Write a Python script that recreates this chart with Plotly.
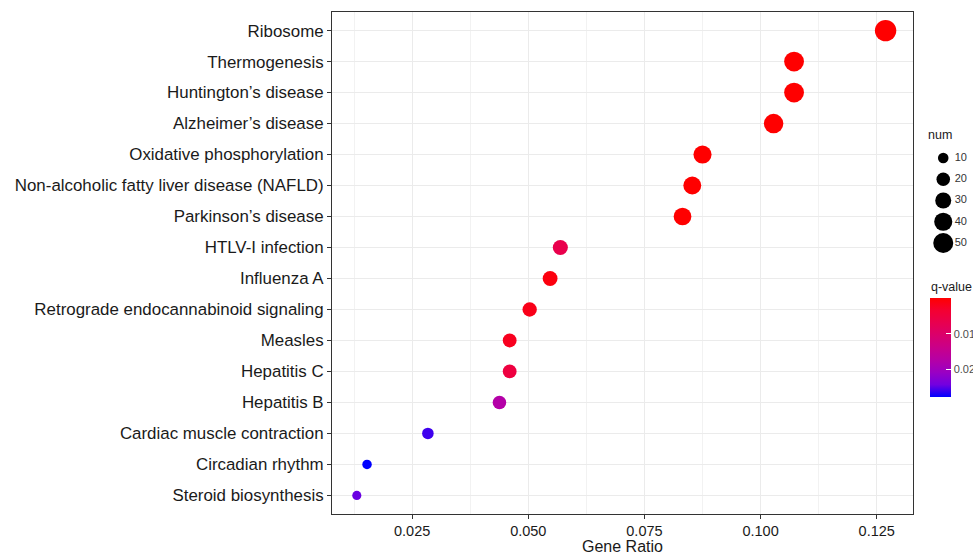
import plotly.graph_objects as go

# KEGG enrichment results (top to bottom)
pathways = [
    "Ribosome",
    "Thermogenesis",
    "Huntington\u2019s disease",
    "Alzheimer\u2019s disease",
    "Oxidative phosphorylation",
    "Non-alcoholic fatty liver disease (NAFLD)",
    "Parkinson\u2019s disease",
    "HTLV-I infection",
    "Influenza A",
    "Retrograde endocannabinoid signaling",
    "Measles",
    "Hepatitis C",
    "Hepatitis B",
    "Cardiac muscle contraction",
    "Circadian rhythm",
    "Steroid biosynthesis",
]
gene_ratio = [0.1269, 0.1072, 0.1072, 0.1028, 0.0875, 0.0853, 0.0832, 0.0569,
              0.0547, 0.0503, 0.0460, 0.0460, 0.0438, 0.0284, 0.0153, 0.0131]
num = [58, 49, 49, 47, 40, 39, 38, 26, 25, 23, 21, 21, 20, 13, 7, 6]
q_value = [0.00001, 0.00001, 0.00001, 0.00002, 0.00002, 0.00002, 0.00003, 0.0066,
           0.0010, 0.0018, 0.0022, 0.0052, 0.0175, 0.0258, 0.0277, 0.0245]

size_breaks = [10, 20, 30, 40, 50]
q_ticks = [0.01, 0.02]
x_ticks = [0.025, 0.050, 0.075, 0.100, 0.125]

W, H = 973, 554
M_L, M_R, M_T, M_B = 332, 0, 12, 40
PANEL_RIGHT = 913
Q_MIN, Q_MAX = 0.0, 0.0277
BAR_TOP, BAR_LEN = 298, 99


def dot_size(n):
    # area grows linearly with gene count
    return (40 + 7.2 * n) ** 0.5


# blue (high q) -> red (low q), interpolated through Lab space;
# colour values are negated so the low-q end sits at the top of the bar
colorscale = [
    [0.0, "#0000FF"], [0.125, "#7300E0"], [0.25, "#9A00C3"], [0.375, "#B500A5"],
    [0.5, "#C90089"], [0.625, "#DA006C"], [0.75, "#E8004F"], [0.875, "#F40031"],
    [1.0, "#FF0000"],
]

plot_w = W - M_L - M_R
plot_h = H - M_T - M_B
panel_frac = (PANEL_RIGHT - M_L) / plot_w


def px_to_paper_y(py):
    return 1 - (py - M_T) / plot_h


fig = go.Figure()
fig.add_trace(go.Scatter(
    x=gene_ratio, y=pathways, mode="markers",
    marker=dict(
        size=[dot_size(n) for n in num],
        color=[-q for q in q_value], colorscale=colorscale, cmin=-Q_MAX, cmax=-Q_MIN,
        line=dict(width=0), opacity=1,
        colorbar=dict(
            thickness=21, len=BAR_LEN, lenmode="pixels",
            xref="paper", x=(930 - M_L) / plot_w, xanchor="left",
            yref="paper", y=px_to_paper_y(BAR_TOP), yanchor="top",
            xpad=0, ypad=0, outlinewidth=0,
            ticks="inside", ticklen=5, tickcolor="white", tickwidth=1,
            tickvals=[-v for v in q_ticks], ticktext=[f"{v:.2f}" for v in q_ticks],
            tickfont=dict(size=11, color="#4d4d4d"),
        ),
    ),
    customdata=q_value,
    hovertemplate="%{y}<br>Gene Ratio: %{x}<br>q-value: %{customdata}<extra></extra>",
    showlegend=False,
))

# colour bar heading
fig.add_annotation(
    text="q-value", xref="paper", yref="paper",
    x=(929 - M_L) / plot_w, y=px_to_paper_y(287),
    xanchor="left", yanchor="middle", showarrow=False,
    font=dict(size=12.5, color="#1a1a1a"),
)

# size legend drawn on a small auxiliary axis in the right strip
key_y0, key_step = 158, 2.125  # pixel of first key, pixels per count unit
y2_top = size_breaks[0] - (key_y0 - M_T) / key_step
y2_bot = size_breaks[0] + (M_T + plot_h - key_y0) / key_step
fig.add_trace(go.Scatter(
    x=[0.38] * len(size_breaks), y=size_breaks, mode="markers",
    marker=dict(size=[dot_size(n) for n in size_breaks], color="#000000",
                line=dict(width=0), opacity=1),
    xaxis="x2", yaxis="y2", showlegend=False, hoverinfo="skip",
))
fig.add_trace(go.Scatter(
    x=[0.62] * len(size_breaks), y=size_breaks, mode="text",
    text=[str(v) for v in size_breaks], textposition="middle right",
    textfont=dict(size=11, color="#333333"),
    xaxis="x2", yaxis="y2", showlegend=False, hoverinfo="skip", cliponaxis=False,
))
fig.add_annotation(
    text="num", xref="x2", yref="y2", x=0.02, y=size_breaks[0] - 23 / key_step,
    xanchor="left", yanchor="middle", showarrow=False,
    font=dict(size=12.5, color="#1a1a1a"),
)

fig.update_layout(
    width=W, height=H,
    margin=dict(l=M_L, r=M_R, t=M_T, b=M_B, autoexpand=False),
    paper_bgcolor="white", plot_bgcolor="white",
    font=dict(family="Liberation Sans, Arial, sans-serif", color="#1a1a1a"),
    xaxis=dict(
        domain=[0, panel_frac],
        range=[0.00776, 0.1328],
        tickvals=x_ticks, ticktext=[f"{v:.3f}" for v in x_ticks],
        ticks="outside", ticklen=4, tickcolor="#333333",
        tickfont=dict(size=14.5, color="#1a1a1a"),
        showgrid=True, gridcolor="#ebebeb", gridwidth=1,
        minor=dict(dtick=0.0125, tick0=0.0, showgrid=True, gridcolor="#f2f2f2", gridwidth=0.6),
        zeroline=False, showline=True, linecolor="#333333", linewidth=1, mirror=True,
        automargin=False,
    ),
    yaxis=dict(
        categoryorder="array", categoryarray=pathways,
        range=[len(pathways) - 0.4, -0.6],
        ticks="outside", ticklen=4, tickcolor="#333333",
        tickfont=dict(size=16.9, color="#1a1a1a"),
        showgrid=True, gridcolor="#ebebeb", gridwidth=1,
        zeroline=False, showline=True, linecolor="#333333", linewidth=1, mirror=True,
        automargin=False,
    ),
    xaxis2=dict(domain=[(925 - M_L) / plot_w, 1.0], range=[0, 1], visible=False,
                fixedrange=True),
    yaxis2=dict(range=[y2_bot, y2_top], visible=False, fixedrange=True, anchor="x2"),
)

# axis title placed just below the tick labels
fig.add_annotation(
    text="Gene Ratio", xref="x domain", yref="paper",
    x=0.5, y=px_to_paper_y(546.5),
    xanchor="center", yanchor="middle", showarrow=False,
    font=dict(size=16, color="#1a1a1a"),
)

fig.write_html("out.html")
